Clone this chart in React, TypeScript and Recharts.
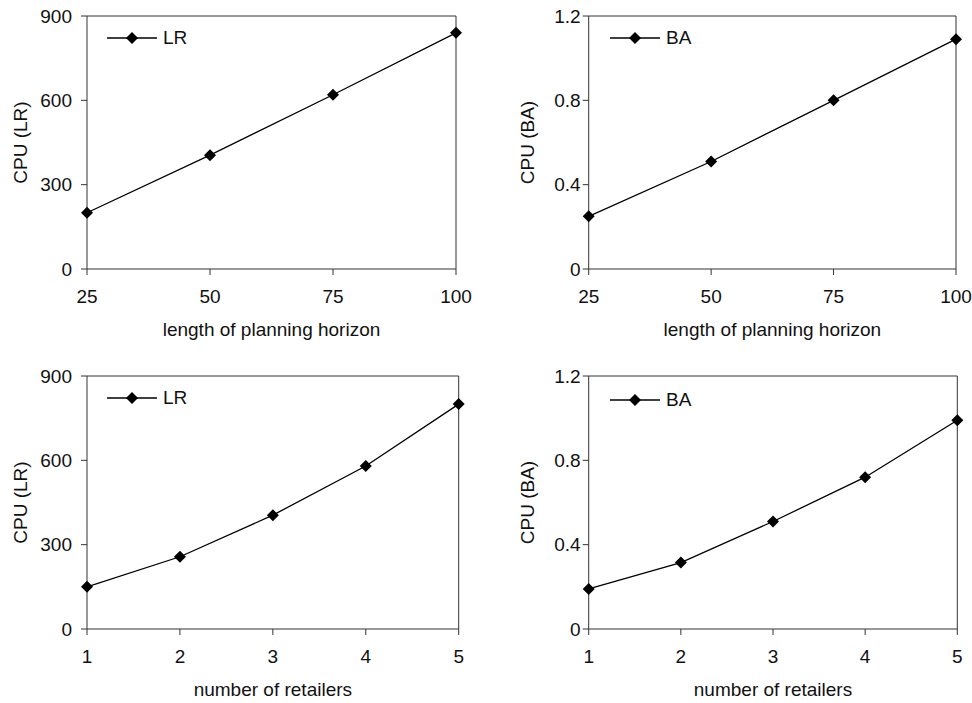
import React from 'react';
import { LineChart, Line, XAxis, YAxis, ReferenceLine, Legend } from 'recharts';

const horizonLengths = [25, 50, 75, 100];
const cpuLRHorizon = [200, 405, 620, 840];
const cpuBAHorizon = [0.25, 0.51, 0.8, 1.09];
const retailerCounts = [1, 2, 3, 4, 5];
const cpuLRRetailers = [150, 257, 405, 580, 800];
const cpuBARetailers = [0.19, 0.315, 0.51, 0.72, 0.99];

const horizonTicks = [25, 50, 75, 100];
const retailerTicks = [1, 2, 3, 4, 5];
const lrTicks = [0, 300, 600, 900];
const baTicks = [0, 0.4, 0.8, 1.2];

const FONT = '"Liberation Sans", Arial, Helvetica, sans-serif';
const FS = 19;
const TEXT = '#111';
const AXIS = '#333';

const Diamond = (props: any) => {
  const { cx, cy, index } = props;
  if (cx == null || cy == null) return <g key={index} />;
  return (
    <polygon
      key={index}
      points={`${cx},${cy - 6} ${cx + 6},${cy} ${cx},${cy + 6} ${cx - 6},${cy}`}
      fill="#000"
    />
  );
};

type PanelProps = {
  xs: number[];
  ys: number[];
  xTicks: number[];
  yTicks: number[];
  xLabel: string;
  yLabel: string;
  name: string;
  left: number;
  top: number;
  height: number;
  plotLeft: number;
  plotRight: number;
  tickMargin: number;
  yLabelOffset: number;
  legendLeft: number;
  legendTop: number;
};

const Panel = (p: PanelProps) => {
  const data = p.xs.map((x, i) => ({ x, y: p.ys[i] }));
  const width = 486;
  const plotTop = 16;
  const plotH = 253;
  const xAxisH = p.height - plotTop - plotH;
  const xMin = p.xTicks[0];
  const xMax = p.xTicks[p.xTicks.length - 1];
  const yMax = p.yTicks[p.yTicks.length - 1];
  const legendContent = () => (
    <div style={{ display: 'flex', alignItems: 'center', height: 20, fontFamily: FONT }}>
      <svg width={52} height={14} style={{ display: 'block' }}>
        <line x1={0} y1={7} x2={50} y2={7} stroke="#000" strokeWidth={1.3} />
        <polygon points="25,1 31,7 25,13 19,7" fill="#000" />
      </svg>
      <span style={{ marginLeft: 4, fontSize: FS, color: TEXT, lineHeight: '20px' }}>{p.name}</span>
    </div>
  );
  return (
    <div style={{ position: 'absolute', left: p.left, top: p.top, width, height: p.height }}>
      <LineChart
        width={width}
        height={p.height}
        data={data}
        margin={{ top: plotTop, right: width - p.plotRight, left: 0, bottom: 0 }}
      >
        <XAxis
          dataKey="x"
          type="number"
          domain={[xMin, xMax]}
          ticks={p.xTicks}
          interval={0}
          tickSize={6}
          tickMargin={15}
          height={xAxisH}
          axisLine={{ stroke: AXIS, strokeWidth: 1 }}
          tickLine={{ stroke: AXIS, strokeWidth: 1 }}
          tick={{ fill: TEXT, fontSize: FS, fontFamily: FONT }}
          label={{
            value: p.xLabel,
            position: 'insideBottom',
            offset: p.height - 336,
            style: { fill: TEXT, fontSize: FS, fontFamily: FONT },
          }}
        />
        <YAxis
          type="number"
          domain={[0, yMax]}
          ticks={p.yTicks}
          interval={0}
          tickSize={6}
          tickMargin={p.tickMargin}
          width={p.plotLeft}
          axisLine={{ stroke: AXIS, strokeWidth: 1 }}
          tickLine={{ stroke: AXIS, strokeWidth: 1 }}
          tick={{ fill: TEXT, fontSize: FS, fontFamily: FONT }}
          label={{
            value: p.yLabel,
            angle: -90,
            position: 'insideLeft',
            offset: p.yLabelOffset,
            style: { textAnchor: 'middle', fill: TEXT, fontSize: FS, fontFamily: FONT },
          }}
        />
        <ReferenceLine y={yMax} stroke={AXIS} strokeWidth={1} />
        <ReferenceLine x={xMax} stroke={AXIS} strokeWidth={1} />
        <Legend
          layout="horizontal"
          verticalAlign="middle"
          align="center"
          content={legendContent}
          wrapperStyle={{ left: p.legendLeft, top: p.legendTop - 10, width: 'auto', height: 20 }}
        />
        <Line
          dataKey="y"
          name={p.name}
          stroke="#000"
          strokeWidth={1.3}
          dot={Diamond}
          activeDot={false}
          isAnimationActive={false}
        />
      </LineChart>
    </div>
  );
};

export default function App() {
  return (
    <div
      style={{
        position: 'absolute',
        left: 0,
        top: 0,
        width: 972,
        height: 703,
        overflow: 'hidden',
        background: '#fff',
        fontFamily: FONT,
      }}
    >
      <Panel
        xs={horizonLengths}
        ys={cpuLRHorizon}
        xTicks={horizonTicks}
        yTicks={lrTicks}
        xLabel="length of planning horizon"
        yLabel="CPU (LR)"
        name="LR"
        left={0}
        top={0}
        height={350}
        plotLeft={87}
        plotRight={456}
        tickMargin={9}
        yLabelOffset={20}
        legendLeft={107}
        legendTop={38}
      />
      <Panel
        xs={horizonLengths}
        ys={cpuBAHorizon}
        xTicks={horizonTicks}
        yTicks={baTicks}
        xLabel="length of planning horizon"
        yLabel="CPU (BA)"
        name="BA"
        left={486}
        top={0}
        height={350}
        plotLeft={102.7}
        plotRight={470}
        tickMargin={2}
        yLabelOffset={41}
        legendLeft={124}
        legendTop={38}
      />
      <Panel
        xs={retailerCounts}
        ys={cpuLRRetailers}
        xTicks={retailerTicks}
        yTicks={lrTicks}
        xLabel="number of retailers"
        yLabel="CPU (LR)"
        name="LR"
        left={0}
        top={360}
        height={343}
        plotLeft={87}
        plotRight={458.7}
        tickMargin={9}
        yLabelOffset={20}
        legendLeft={107}
        legendTop={38}
      />
      <Panel
        xs={retailerCounts}
        ys={cpuBARetailers}
        xTicks={retailerTicks}
        yTicks={baTicks}
        xLabel="number of retailers"
        yLabel="CPU (BA)"
        name="BA"
        left={486}
        top={360}
        height={343}
        plotLeft={102.7}
        plotRight={471.3}
        tickMargin={2}
        yLabelOffset={41}
        legendLeft={124}
        legendTop={40}
      />
    </div>
  );
}
